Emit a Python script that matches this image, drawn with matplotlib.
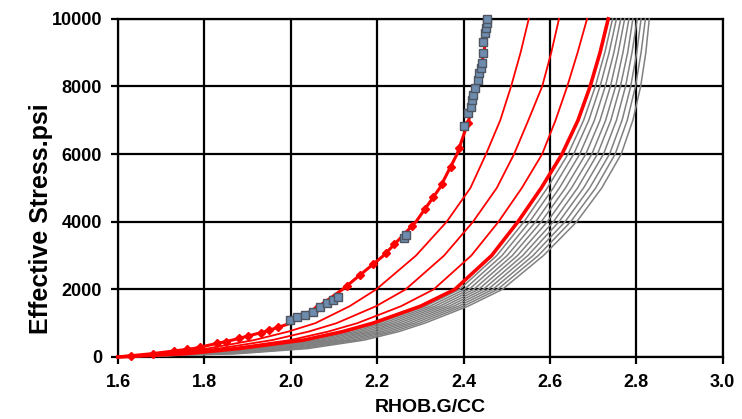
import numpy as np
import matplotlib
matplotlib.use("Agg")
import matplotlib.pyplot as plt

plt.rcParams['font.family'] = ['Liberation Sans', 'DejaVu Sans']

# effective stress levels (psi) at which each curve's density was read
stress = [0, 100, 250, 500, 750, 1000, 1500, 2000, 3000, 4000,
          5000, 6000, 7000, 8000, 9000, 10000]

# red curves (density g/cc at each stress level)
rho_marked = [1.6, 1.68, 1.775, 1.865, 1.94, 2.0, 2.065, 2.12, 2.215, 2.29,
              2.345, 2.385, 2.412, 2.432, 2.447, 2.458]
rho_red_thin = [
    [1.6, 1.704, 1.807, 1.915, 1.994, 2.057, 2.136, 2.198, 2.29, 2.361,
     2.416, 2.452, 2.485, 2.51, 2.532, 2.551],
    [1.6, 1.725, 1.834, 1.957, 2.041, 2.106, 2.197, 2.266, 2.355, 2.422,
     2.477, 2.517, 2.55, 2.582, 2.603, 2.621],
    [1.6, 1.745, 1.86, 1.999, 2.086, 2.154, 2.255, 2.331, 2.418, 2.481,
     2.535, 2.582, 2.613, 2.64, 2.664, 2.686],
]
rho_red_thick = [1.6, 1.76, 1.88, 2.03, 2.12, 2.19, 2.30, 2.38, 2.465, 2.526,
                 2.58, 2.628, 2.665, 2.693, 2.716, 2.735]

# red markers sitting on the first curve
mark_rho = [1.63, 1.68, 1.73, 1.76, 1.79, 1.83, 1.85, 1.88, 1.9, 1.93, 1.95,
            1.97, 2.03, 2.06, 2.13, 2.16, 2.19, 2.22, 2.24, 2.28, 2.31, 2.33,
            2.35, 2.37, 2.39, 2.41]
mark_stress = [37, 100, 179, 226, 292, 403, 458, 550, 617, 717, 792,
               875, 1231, 1462, 2105, 2421, 2737, 3067, 3333, 3867, 4364, 4727,
               5125, 5625, 6185, 6926]

# gray curves
rho_gray = [
    [1.6, 1.772, 1.896, 2.044, 2.133, 2.202, 2.311, 2.391, 2.477, 2.540, 2.594, 2.642, 2.678, 2.705, 2.727, 2.745],
    [1.6, 1.784, 1.912, 2.058, 2.146, 2.214, 2.322, 2.402, 2.489, 2.553, 2.608, 2.655, 2.690, 2.716, 2.737, 2.754],
    [1.6, 1.796, 1.928, 2.072, 2.159, 2.226, 2.333, 2.413, 2.501, 2.567, 2.622, 2.669, 2.703, 2.728, 2.748, 2.764],
    [1.6, 1.808, 1.944, 2.086, 2.172, 2.238, 2.344, 2.424, 2.513, 2.580, 2.636, 2.683, 2.716, 2.740, 2.758, 2.773],
    [1.6, 1.820, 1.960, 2.100, 2.185, 2.250, 2.355, 2.435, 2.525, 2.594, 2.650, 2.697, 2.729, 2.752, 2.769, 2.783],
    [1.6, 1.832, 1.976, 2.114, 2.198, 2.262, 2.366, 2.446, 2.537, 2.608, 2.664, 2.710, 2.741, 2.763, 2.780, 2.792],
    [1.6, 1.844, 1.992, 2.128, 2.211, 2.274, 2.377, 2.457, 2.549, 2.621, 2.678, 2.724, 2.754, 2.775, 2.790, 2.802],
    [1.6, 1.856, 2.008, 2.142, 2.224, 2.286, 2.388, 2.468, 2.561, 2.635, 2.692, 2.738, 2.767, 2.787, 2.801, 2.811],
    [1.6, 1.868, 2.024, 2.156, 2.237, 2.298, 2.399, 2.479, 2.573, 2.648, 2.706, 2.751, 2.779, 2.798, 2.811, 2.821],
    [1.6, 1.880, 2.040, 2.170, 2.250, 2.310, 2.410, 2.490, 2.585, 2.662, 2.720, 2.765, 2.792, 2.810, 2.822, 2.830],
]

# measured points
meas_rho = [1.998, 2.014, 2.033, 2.051, 2.068, 2.084, 2.098, 2.109,
            2.262, 2.266,
            2.401, 2.410, 2.417, 2.419, 2.422, 2.426, 2.433, 2.436, 2.440,
            2.443, 2.445, 2.445, 2.450, 2.452, 2.454, 2.454]
meas_stress = [1095, 1183, 1243, 1331, 1479, 1598, 1686, 1775,
               3520, 3620,
               6834, 7219, 7396, 7604, 7751, 7959, 8195, 8402, 8550,
               8698, 8994, 9320, 9586, 9734, 9882, 9990]

xticks = [1.6, 1.8, 2.0, 2.2, 2.4, 2.6, 2.8, 3.0]
yticks = [0, 2000, 4000, 6000, 8000, 10000]

fig = plt.figure(figsize=(7.42, 4.19), dpi=100)
ax = fig.add_axes([0.159, 0.148, 0.815, 0.807])

for r in rho_gray:
    ax.plot(r, stress, color='#808080', lw=1.1, zorder=3, clip_on=False)
for r in rho_red_thin:
    ax.plot(r, stress, color='#ff0000', lw=1.3, zorder=4, clip_on=False)
ax.plot(rho_red_thick, stress, color='#ff0000', lw=2.6, zorder=4, clip_on=False)
ax.plot(rho_marked, stress, color='#ff0000', lw=2.2, zorder=5, clip_on=False)
ax.plot(mark_rho, mark_stress, ls='none', marker='D', ms=4.5, color='#ff0000',
        zorder=5, clip_on=False)
ax.plot(meas_rho, meas_stress, ls='none', marker='s', ms=5.5,
        mfc='#6e8cae', mec='#4f5560', mew=1.0, zorder=6, clip_on=False)

ax.set_xlim(1.6, 3.0)
ax.set_ylim(0, 10000)
ax.set_xticks(xticks)
ax.set_xticklabels([f"{t:.1f}" for t in xticks])
ax.set_yticks(yticks)
ax.grid(True, color='black', lw=1.6, zorder=1)
ax.set_axisbelow(True)
for s in ax.spines.values():
    s.set_linewidth(1.6)
ax.tick_params(direction='out', length=5, width=1.6, labelsize=13)
ax.tick_params(axis='x', pad=7)
ax.tick_params(axis='y', pad=6.5)
for lab in ax.get_xticklabels() + ax.get_yticklabels():
    lab.set_fontweight('bold')

ax.set_xlabel('RHOB.G/CC', fontsize=14, fontweight='bold')
ax.set_ylabel('Effective Stress.psi', fontsize=18, fontweight='bold')
ax.xaxis.set_label_coords(0.516, -0.125)
ax.yaxis.set_label_coords(-0.108, 0.41)

fig.savefig('out.png', dpi=100)
